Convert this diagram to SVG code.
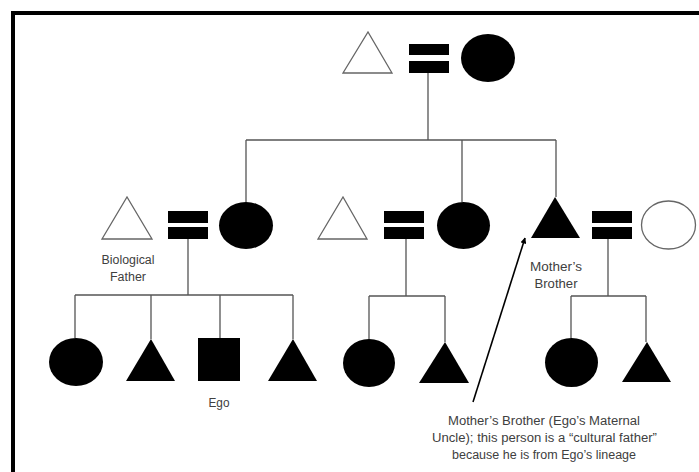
<svg xmlns="http://www.w3.org/2000/svg" width="699" height="472" viewBox="0 0 699 472">
<defs>
<style>
.f{fill:#000}
.o{fill:#fff;stroke:#666;stroke-width:1.3}
.c{stroke:#555;stroke-width:1.3;fill:none}
.t{font-family:"Liberation Sans",Arial,sans-serif;font-size:12px;fill:#404040;text-anchor:middle}
</style>
<marker id="ah" viewBox="0 0 10 10" refX="9" refY="5" markerWidth="6" markerHeight="6" orient="auto-start-reverse" markerUnits="userSpaceOnUse">
<path d="M0,0 L10,5 L0,10 z" fill="#000"/>
</marker>
</defs>
<rect x="0" y="0" width="699" height="472" fill="#fff"/>
<rect x="13" y="13" width="700" height="480" fill="none" stroke="#000" stroke-width="4"/>

<g id="connectors">
<path class="c" d="M428,73 V140 M246,140 H556 M246,140 V202 M462,140 V202 M556,140 V197"/>
<path class="c" d="M188,239 V295 M75,295 H293 M75,295 V338 M151,295 V339 M220,295 V338 M293,295 V339"/>
<path class="c" d="M406,239 V296 M369,296 H445 M369,296 V339 M445,296 V342"/>
<path class="c" d="M608,239 V296 M571,296 H646 M571,296 V338 M646,296 V342"/>
<line x1="473" y1="402" x2="525" y2="238" stroke="#000" stroke-width="1.6" marker-end="url(#ah)"/>
</g>

<g id="top-father"><polygon class="o" points="343,73 368,32 392,73"/></g>
<g id="top-marriage"><rect class="f" x="409" y="44" width="40" height="11"/><rect class="f" x="409" y="61" width="40" height="12"/></g>
<g id="top-mother"><ellipse class="f" cx="488" cy="58" rx="27" ry="24"/></g>

<g id="biological-father"><polygon class="o" points="102,239 127,197 152,239"/>
<text class="t" x="128" y="264" textLength="53" lengthAdjust="spacingAndGlyphs">Biological</text><text class="t" x="128" y="281" textLength="36" lengthAdjust="spacingAndGlyphs">Father</text></g>
<g id="marriage-1"><rect class="f" x="168" y="211" width="40" height="12"/><rect class="f" x="168" y="227" width="40" height="12"/></g>
<g id="mother"><ellipse class="f" cx="246" cy="225.5" rx="27" ry="23.5"/></g>

<g id="aunt-husband"><polygon class="o" points="318,239 343,197 367,239"/></g>
<g id="marriage-2"><rect class="f" x="384" y="211" width="40" height="12"/><rect class="f" x="384" y="227" width="40" height="12"/></g>
<g id="aunt"><ellipse class="f" cx="463.5" cy="225.5" rx="26.5" ry="23.5"/></g>

<g id="mothers-brother"><polygon class="f" points="531,238 555,197 580,238"/>
<text class="t" x="556" y="271" textLength="52" lengthAdjust="spacingAndGlyphs">Mother’s</text><text class="t" x="556" y="288" textLength="43" lengthAdjust="spacingAndGlyphs">Brother</text></g>
<g id="marriage-3"><rect class="f" x="592" y="211" width="40" height="12"/><rect class="f" x="592" y="227" width="40" height="12"/></g>
<g id="uncle-wife"><ellipse class="o" cx="668.5" cy="225" rx="27" ry="24"/></g>

<g id="sister"><ellipse class="f" cx="76" cy="362" rx="27" ry="24"/></g>
<g id="brother-1"><polygon class="f" points="126,381 151,339 175,381"/></g>
<g id="ego"><rect class="f" x="198" y="338" width="42" height="43"/><text class="t" x="219" y="407" textLength="21" lengthAdjust="spacingAndGlyphs">Ego</text></g>
<g id="brother-2"><polygon class="f" points="268,381 293,339 317,381"/></g>

<g id="cousin-1"><ellipse class="f" cx="369" cy="363" rx="26" ry="24"/></g>
<g id="cousin-2"><polygon class="f" points="419,383 445,342 469,383"/></g>

<g id="cousin-3"><ellipse class="f" cx="571.5" cy="362.5" rx="26.5" ry="24.5"/></g>
<g id="cousin-4"><polygon class="f" points="622,382 647,342 671,382"/></g>

<g id="caption">
<text class="t" x="544" y="425" textLength="192" lengthAdjust="spacingAndGlyphs">Mother’s Brother (Ego’s Maternal</text>
<text class="t" x="544.5" y="442" textLength="225" lengthAdjust="spacingAndGlyphs">Uncle); this person is a “cultural father”</text>
<text class="t" x="544" y="459" textLength="184" lengthAdjust="spacingAndGlyphs">because he is from Ego’s lineage</text>
</g>
</svg>
